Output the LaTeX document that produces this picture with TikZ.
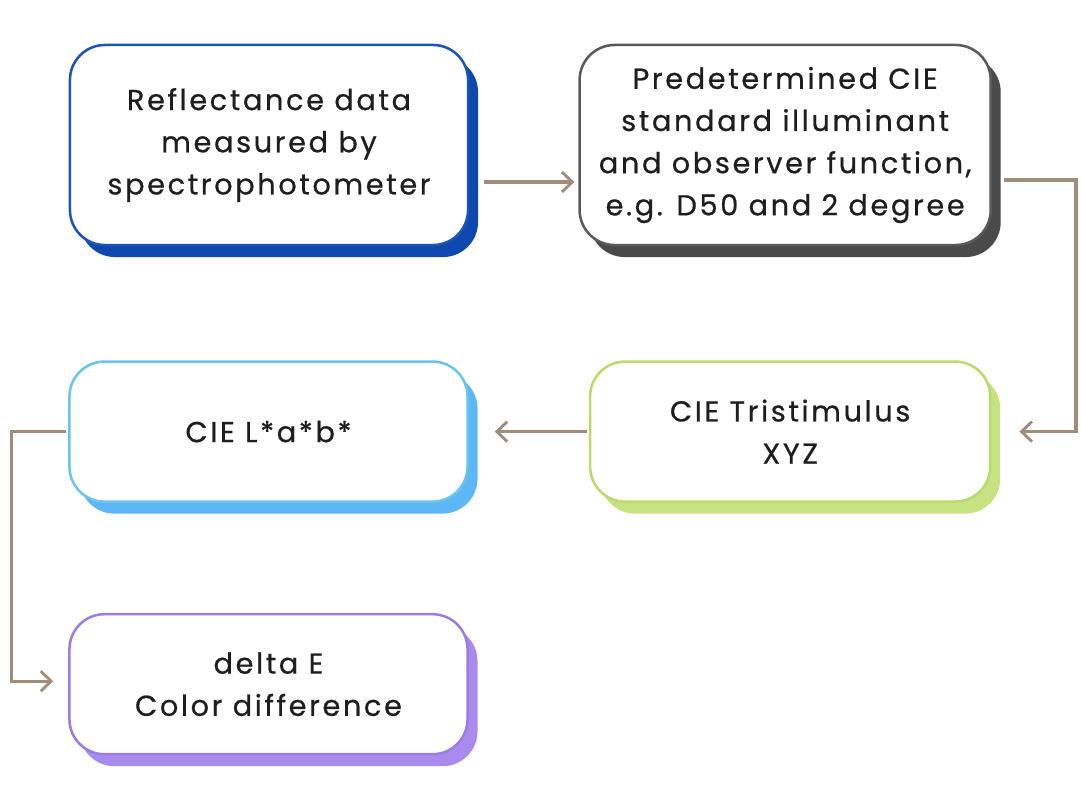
\documentclass[tikz,border=0pt]{standalone}
\usepackage{fontspec}
\usepackage{xcolor}
\usepackage{tikz}
\usetikzlibrary{arrows.meta, positioning, calc, shadows}
\newfontfamily\boxfont[LetterSpace=9, FakeBold=0.6]{Poppins}
\definecolor{cieBlue}{HTML}{1D55B6}
\definecolor{cieBlueSh}{HTML}{0E48AE}
\definecolor{cieGrey}{HTML}{5A5A5A}
\definecolor{cieGreySh}{HTML}{4A4A4A}
\definecolor{cieGreen}{HTML}{B8DB6B}
\definecolor{cieGreenSh}{HTML}{C6E281}
\definecolor{cieSky}{HTML}{6CC3EE}
\definecolor{cieSkySh}{HTML}{5DB7F4}
\definecolor{ciePurple}{HTML}{9B7CE6}
\definecolor{ciePurpleSh}{HTML}{A98BEE}
\definecolor{cieArrow}{HTML}{A08C79}
\definecolor{cieText}{HTML}{1E1E1E}

\begin{document}
\begin{tikzpicture}[
  x=0.025cm, y=0.025cm,
  font=\boxfont\fontsize{20.5}{30}\selectfont, text=cieText,
  card/.style={draw, line width=1.8pt, rounded corners=0.875cm, fill=white,
               align=center, inner sep=0pt, minimum width=9.95cm},
  tall/.style={card, minimum height=5cm},
  flat/.style={card, minimum height=3.5cm},
  shade/.style={drop shadow={shadow xshift=0.25cm, shadow yshift=-0.3cm,
                             fill=#1, opacity=1}},
  flow/.style={-{Straight Barb[length=2.6mm, width=5mm, line width=2pt]},
               draw=cieArrow, line width=2.3pt},
]
\useasboundingbox (0,0) rectangle (1081,-810);

\node[tall, draw=cieBlue, shade=cieBlueSh] (refl) at (269,-145)
  {Reflectance data\\ measured by\\ spectrophotometer};
\node[tall, draw=cieGrey, shade=cieGreySh, minimum width=10.275cm,
      right=2.725cm of refl] (illum)
  {Predetermined CIE\\ standard illuminant\\ and observer function,\\ e.g. D50 and 2 degree};
\node[flat, draw=cieGreen, shade=cieGreenSh, minimum width=10cm,
      below=2.85cm of illum, xshift=0.125cm] (xyz)
  {CIE Tristimulus\\ XYZ};
\node[flat, draw=cieSky, shade=cieSkySh, left=3cm of xyz] (lab)
  {CIE L*a*b*};
\node[flat, draw=ciePurple, shade=ciePurpleSh, below=2.75cm of lab] (dE)
  {delta E\\ Color difference};

\draw[flow] ($(refl.east)+(15,-37)$) -- ($(illum.west)+(-4,-37)$);
\draw[flow] ($(illum.east)+(12,-35)$) -- ++(72,0) |- ($(xyz.east)+(28,0)$);
\draw[flow] ($(xyz.west)+(-2,0)$) -- ($(lab.east)+(26,0)$);
\draw[flow] ($(lab.west)+(-2,0)$) -- ++(-55,0) |- ($(dE.west)+(-15,3)$);
\end{tikzpicture}
\end{document}
